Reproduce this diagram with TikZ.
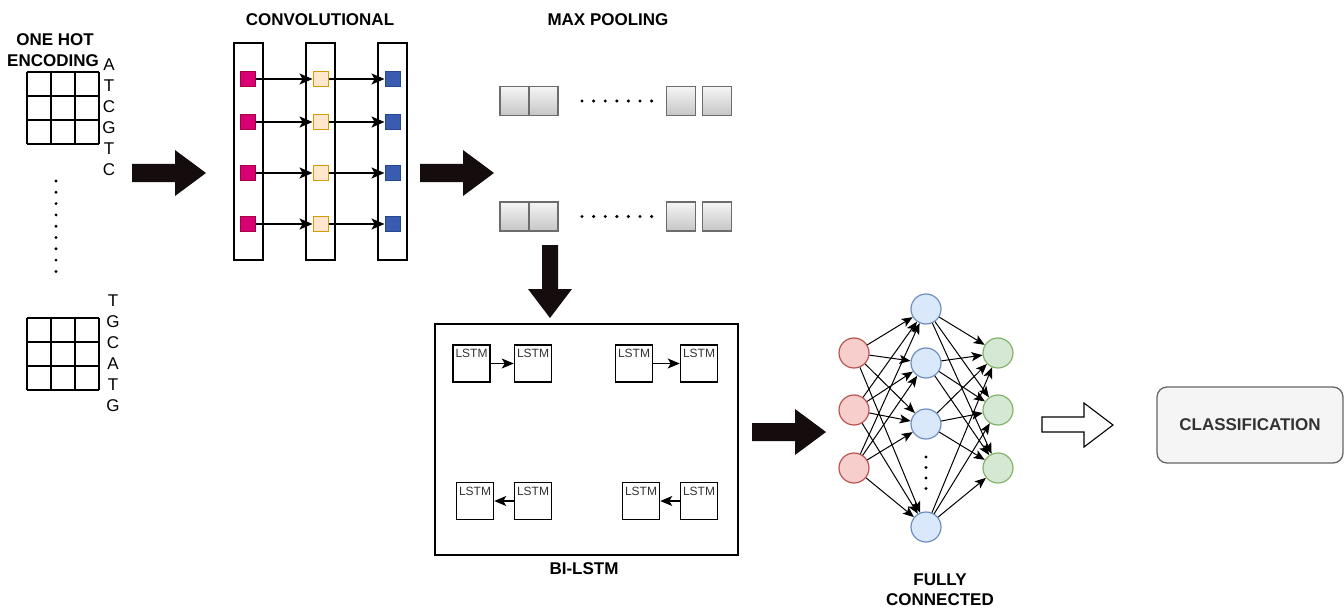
\documentclass[tikz,border=0pt]{standalone}
\usepackage{fontspec}
\setmainfont{Liberation Sans}
\usetikzlibrary{arrows.meta}
\definecolor{bigarr}{HTML}{150D0D}
\definecolor{magsq}{HTML}{D80073}
\definecolor{magsqd}{HTML}{A50040}
\definecolor{orsq}{HTML}{FFE6CC}
\definecolor{orsqd}{HTML}{D79B00}
\definecolor{blsq}{HTML}{3A5CB0}
\definecolor{blsqd}{HTML}{24488F}
\definecolor{redf}{HTML}{F8CECC}
\definecolor{redd}{HTML}{B85450}
\definecolor{bluef}{HTML}{DAE8FC}
\definecolor{blued}{HTML}{6C8EBF}
\definecolor{greenf}{HTML}{D5E8D4}
\definecolor{greend}{HTML}{82B366}
\definecolor{clsf}{HTML}{F5F5F5}
\definecolor{clsd}{HTML}{666666}
\definecolor{clst}{HTML}{333333}
\tikzset{
  ttl/.style={font=\fontsize{17}{19}\selectfont\bfseries, inner sep=0pt},
  letter/.style={font=\fontsize{17}{19}\selectfont, inner sep=0pt},
  col/.style={draw, line width=1.5pt, minimum width=29pt, minimum height=217pt, inner sep=0pt},
  sq/.style={draw, line width=1pt, minimum size=15pt, inner sep=0pt},
  convarrow/.style={line width=1.2pt, -{Stealth[length=13pt,width=11pt,inset=3pt]}},
  pool/.style={draw=gray!85!black, line width=1.2pt, top color=gray!8, bottom color=gray!45, minimum width=29pt, minimum height=29pt, inner sep=0pt},
  lstm/.style={draw, line width=1.5pt, minimum size=37pt, inner sep=0pt},
  lstmtxt/.style={font=\fontsize{12}{13}\selectfont, inner sep=0pt, text=black!80},
  lstmarrow/.style={line width=1.2pt, -{Stealth[length=12pt,width=10pt,inset=3pt]}},
  neuron/.style={circle, draw, line width=1.2pt, minimum size=30pt, inner sep=0pt},
  nnarrow/.style={line width=1pt, -{Stealth[length=11pt,width=9pt,inset=2.5pt]}},
  blockarrow/.style={fill=bigarr},
}
\begin{document}
\begin{tikzpicture}[x=1pt,y=-1pt]
\useasboundingbox (0,0) rectangle (1344,607);
\fill[white] (0,0) rectangle (1344,607);

% ---------- one hot encoding ----------
\node[ttl] (oh1) at (55,40) {ONE HOT};
\node[ttl] (oh2) at (53,61) {ENCODING};
\foreach \i in {0,1,2,3} {
  \draw[line width=1.5pt] (27+24*\i,72) -- (27+24*\i,144);
  \draw[line width=1.5pt] (27,72+24*\i) -- (99,72+24*\i);
  \draw[line width=1.5pt] (27+24*\i,318) -- (27+24*\i,390);
  \draw[line width=1.5pt] (27,318+24*\i) -- (99,318+24*\i);
}
\foreach \l [count=\k from 0] in {A,T,C,G,T,C}
  \node[letter] (la\k) at (109,65+21*\k) {\l};
\foreach \l [count=\k from 0] in {T,G,C,A,T,G}
  \node[letter] (lb\k) at (113,301+21*\k) {\l};
\foreach \k in {0,...,8}
  \fill (56,181+11.3*\k) circle (1.6);

% arrow 1
\fill[blockarrow] (132,164) -- (175,164) -- (175,150) -- (206,173) -- (175,196) -- (175,182) -- (132,182) -- cycle;

% ---------- convolutional ----------
\node[ttl] (tconv) at (320,20) {CONVOLUTIONAL};
\node[col] (c1) at (248.5,151.5) {};
\node[col] (c2) at (320.5,151.5) {};
\node[col] (c3) at (392.5,151.5) {};
\foreach \y [count=\i] in {79,122,173,224} {
  \node[sq, fill=magsq, draw=magsqd] (m\i) at (248,\y) {};
  \node[sq, fill=orsq, draw=orsqd] (o\i) at (320.5,\y) {};
  \node[sq, fill=blsq, draw=blsqd] (b\i) at (392.5,\y) {};
  \draw[convarrow] (m\i.east) -- (o\i.west);
  \draw[convarrow] (o\i.east) -- (b\i.west);
}

% arrow 2
\fill[blockarrow] (420,164) -- (463,164) -- (463,150) -- (494,173) -- (463,196) -- (463,182) -- (420,182) -- cycle;

% ---------- max pooling ----------
\node[ttl] (tpool) at (608,20) {MAX POOLING};
\foreach \y [count=\r] in {101,216.5} {
  \node[pool] (p\r a) at (514.5,\y) {};
  \node[pool] (p\r b) at (543.5,\y) {};
  \node[pool] (p\r c) at (681,\y) {};
  \node[pool] (p\r d) at (717,\y) {};
  \foreach \k in {0,...,6}
    \fill (582+11.6*\k,\y) circle (1.7);
}

% down arrow
\fill[blockarrow] (542,245) -- (558,245) -- (558,289) -- (572,289) -- (550,318) -- (528,289) -- (542,289) -- cycle;

% ---------- BI-LSTM ----------
\node[draw, line width=1.5pt, minimum width=303pt, minimum height=231pt, inner sep=0pt] (bilstm) at (586.5,439.5) {};
\node[ttl] (tbil) at (584,569) {BI-LSTM};
\foreach \nm/\x/\y in {l1/471.5/363.5, l2/533/363.5, l3/634/363.5, l4/699/363.5,
                      l5/475/501, l6/533/501, l7/641/501, l8/699/501} {
  \node[lstm] (\nm) at (\x,\y) {};
  \node[lstmtxt, anchor=north] (\nm txt) at ([yshift=-5pt]\nm.north) {LSTM};
}
\draw[lstmarrow] (l1.east) -- (l2.west);
\draw[lstmarrow] (l3.east) -- (l4.west);
\draw[lstmarrow] (l6.west) -- (l5.east);
\draw[lstmarrow] (l8.west) -- (l7.east);

% arrow 3
\fill[blockarrow] (752,423) -- (795,423) -- (795,409) -- (826,432) -- (795,455) -- (795,441) -- (752,441) -- cycle;

% ---------- fully connected ----------
\foreach \y [count=\i] in {353,410,468}
  \node[neuron, fill=redf, draw=redd] (in\i) at (854,\y) {};
\foreach \y [count=\i] in {309,363,424,527}
  \node[neuron, fill=bluef, draw=blued] (hd\i) at (926,\y) {};
\foreach \y [count=\i] in {353,410,468}
  \node[neuron, fill=greenf, draw=greend] (ou\i) at (998,\y) {};
\foreach \i in {1,2,3}
  \foreach \j in {1,2,3,4}
    \draw[nnarrow] (in\i) -- (hd\j);
\foreach \j in {1,2,3,4}
  \foreach \i in {1,2,3}
    \draw[nnarrow] (hd\j) -- (ou\i);
\foreach \k in {0,...,3}
  \fill (926,457+10.5*\k) circle (1.7);
\node[ttl] (tfc1) at (940,580) {FULLY};
\node[ttl] (tfc2) at (940,600) {CONNECTED};

% hollow arrow
\draw[line width=1.1pt, fill=white] (1042,417) -- (1084,417) -- (1084,403) -- (1113,425) -- (1084,447) -- (1084,432) -- (1042,432) -- cycle;

% classification
\node[draw=clsd, fill=clsf, line width=1.3pt, rounded corners=10pt, minimum width=186pt, minimum height=76pt, inner sep=0pt,
      font=\fontsize{17}{19}\selectfont\bfseries, text=clst] (cls) at (1250,425) {CLASSIFICATION};
\end{tikzpicture}
\end{document}
